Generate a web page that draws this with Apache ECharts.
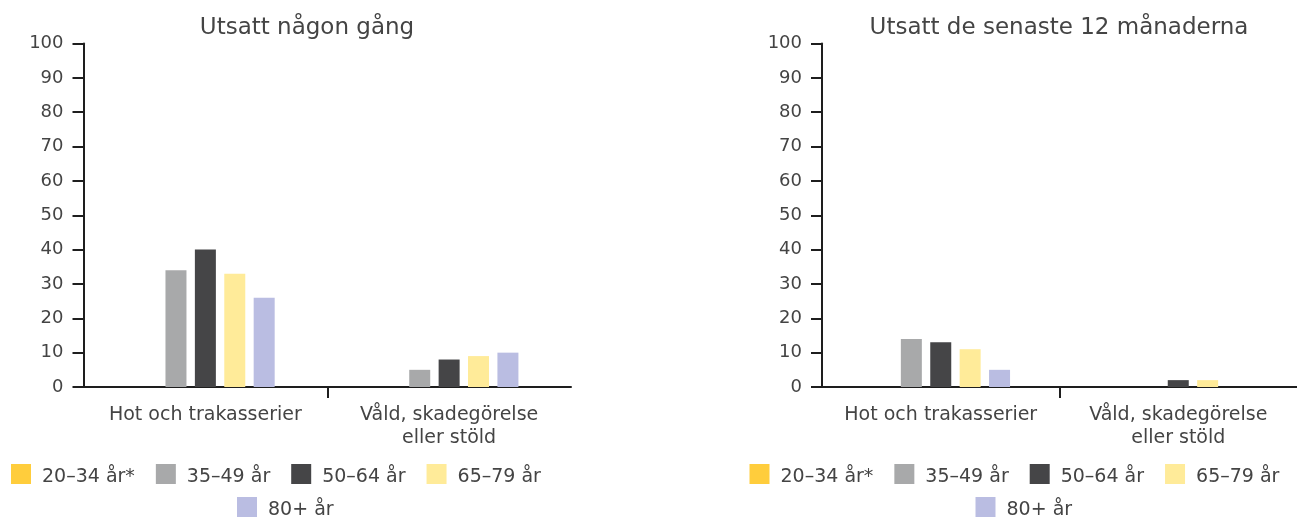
<!DOCTYPE html>
<html>
<head>
<meta charset="utf-8">
<script src="https://cdn.jsdelivr.net/npm/echarts@6/dist/echarts.min.js"></script>
<style>
html,body{margin:0;padding:0;background:#fff;}
#c{width:1297px;height:520px;}
</style>
</head>
<body>
<div id="c"></div>
<script>
const categories = ['Hot och trakasserier', 'Våld, skadegörelse\neller stöld'];
const seriesNames = ['20–34 år*', '35–49 år', '50–64 år', '65–79 år', '80+ år'];
const seriesColors = ['#ffcd3c', '#a8a9aa', '#454547', '#ffeb99', '#babde2'];
const titles = ['Utsatt någon gång', 'Utsatt de senaste 12 månaderna'];
const yTicks = [0, 10, 20, 30, 40, 50, 60, 70, 80, 90, 100];

// values per age group: [Hot och trakasserier, Våld, skadegörelse eller stöld]
const everAge2034 = [null, null];
const everAge3549 = [34, 5];
const everAge5064 = [40, 8];
const everAge6579 = [33, 9];
const everAge80 = [26, 10];

const lastYearAge2034 = [null, null];
const lastYearAge3549 = [14, 0];
const lastYearAge5064 = [13, 2];
const lastYearAge6579 = [11, 2];
const lastYearAge80 = [5, 0];

const panels = [
  [everAge2034, everAge3549, everAge5064, everAge6579, everAge80],
  [lastYearAge2034, lastYearAge3549, lastYearAge5064, lastYearAge6579, lastYearAge80]
];

const FONT = '"DejaVu Sans"';
const TXT = '#444';
const AX = '#1e1e1e';
const OFFSET = 738.5;

const grids = [], xAxes = [], yAxes = [], series = [], title = [], legend = [];
panels.forEach((p, gi) => {
  const dx = gi * OFFSET;
  grids.push({ left: 83.5 + dx, width: 487.5, top: 43.5, height: 343.5, containLabel: false });
  xAxes.push({
    type: 'category', gridIndex: gi, data: categories,
    axisLine: { lineStyle: { color: AX, width: 2 } },
    axisTick: { show: false },
    axisLabel: { interval: 0, color: TXT, fontFamily: FONT, fontSize: 19, lineHeight: 23, margin: 17 }
  });
  xAxes.push({
    type: 'value', gridIndex: gi, min: 0, max: categories.length, position: 'bottom',
    axisLine: { show: false }, splitLine: { show: false }, axisLabel: { show: false },
    axisTick: { show: true, customValues: [1], length: 11, lineStyle: { color: AX, width: 2 } }
  });
  yAxes.push({
    type: 'value', gridIndex: gi, min: yTicks[0], max: yTicks[yTicks.length - 1], interval: 10,
    axisLine: { show: true, lineStyle: { color: AX, width: 2 } },
    axisTick: { show: true, length: 11, lineStyle: { color: AX, width: 2 } },
    splitLine: { show: false },
    axisLabel: { color: TXT, fontFamily: FONT, fontSize: 18, margin: 20 }
  });
  title.push({
    text: titles[gi], left: (gi === 0 ? 307 : 1059), top: 17, textAlign: 'center', padding: 0,
    textStyle: { color: TXT, fontFamily: FONT, fontSize: 23, fontWeight: 'normal' }
  });
  p.forEach((vals, si) => {
    series.push({
      type: 'bar', name: seriesNames[si], xAxisIndex: gi * 2, yAxisIndex: gi,
      data: vals, barWidth: 21, barGap: '40%',
      itemStyle: { color: seriesColors[si] }, z: 1
    });
  });
  const legCommon = {
    orient: 'horizontal', itemWidth: 20, itemHeight: 20, itemGap: 21, icon: 'rect', padding: 0,
    formatter: function (n) { return '{t|' + n + '}'; },
    textStyle: {
      color: TXT, fontFamily: FONT, fontSize: 19,
      rich: { t: { color: TXT, fontFamily: FONT, fontSize: 19, padding: [6, 0, 0, 6] } }
    },
    selectedMode: false
  };
  legend.push(Object.assign({}, legCommon, { left: 11 + dx, top: 464, data: seriesNames.slice(0, 4) }));
  legend.push(Object.assign({}, legCommon, { left: 237 + dx, top: 497, data: seriesNames.slice(4) }));
});

const chart = echarts.init(document.getElementById('c'), null, { renderer: 'canvas' });
chart.setOption({
  animation: false,
  backgroundColor: '#fff',
  color: seriesColors,
  title: title,
  legend: legend,
  grid: grids,
  xAxis: xAxes,
  yAxis: yAxes,
  series: series
});
</script>
</body>
</html>
